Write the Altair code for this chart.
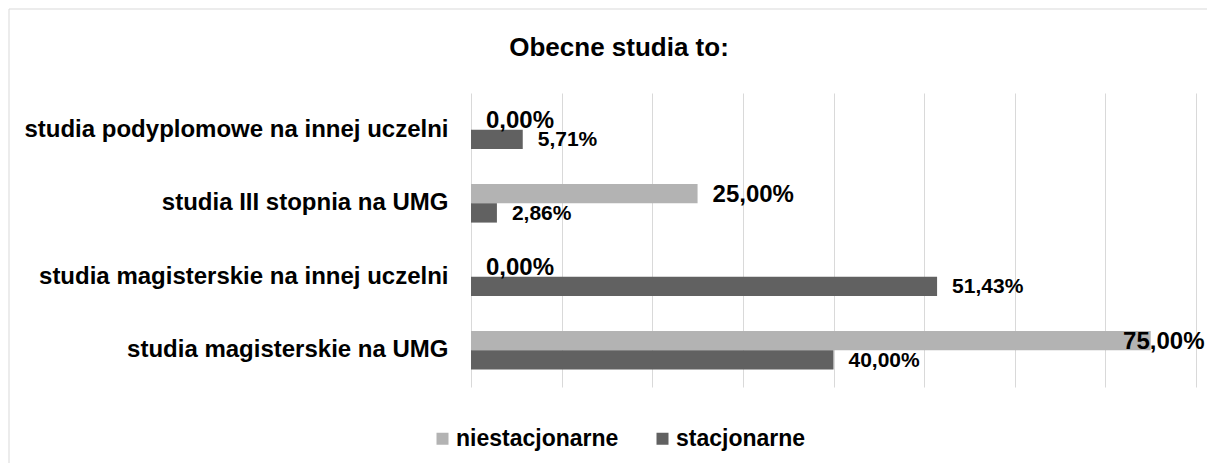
import altair as alt
import pandas as pd

TITLE = "Obecne studia to:"
categories = [
    "studia podyplomowe na innej uczelni",
    "studia III stopnia na UMG",
    "studia magisterskie na innej uczelni",
    "studia magisterskie na UMG",
]
series = ["niestacjonarne", "stacjonarne"]
niestacjonarne = [0.0, 25.0, 0.0, 75.0]
stacjonarne = [5.71, 2.86, 51.43, 40.0]
x_ticks = [0, 10, 20, 30, 40, 50, 60, 70, 80]
colors = ["#b3b3b3", "#616161"]

rows = []
for c, a, b in zip(categories, niestacjonarne, stacjonarne):
    rows.append({"kategoria": c, "seria": series[0], "wartosc": a})
    rows.append({"kategoria": c, "seria": series[1], "wartosc": b})
df = pd.DataFrame(rows)

FONT = "Liberation Sans"
LABEL_MAX = 70.3  # labels near the right edge are pulled inside, as in the source

x_scale = alt.Scale(domain=[0, 80], nice=False)
y_enc = alt.Y(
    "kategoria:N",
    sort=categories,
    scale=alt.Scale(paddingInner=0.474, paddingOuter=0.237),
    axis=alt.Axis(
        title=None, labelFontSize=24, labelFontWeight="bold", labelColor="black",
        labelFont=FONT, labelPadding=23, ticks=False, domain=False, labelLimit=700,
    ),
)
yoff_enc = alt.YOffset("seria:N", sort=series)

base = alt.Chart(df)

bars = base.mark_bar().encode(
    x=alt.X(
        "wartosc:Q", scale=x_scale,
        axis=alt.Axis(values=x_ticks, labels=False, ticks=False, domain=False,
                      title=None, grid=True, gridColor="#d9d9d9", gridWidth=1),
    ),
    y=y_enc,
    yOffset=yoff_enc,
    color=alt.Color(
        "seria:N", sort=series,
        scale=alt.Scale(domain=series, range=colors),
        legend=alt.Legend(
            orient="none", legendX=-40, legendY=334, direction="horizontal",
            title=None, symbolType="square", symbolSize=144, labelFontSize=23,
            labelFontWeight="bold", labelFont=FONT, labelColor="black",
            columnPadding=32, labelOffset=2, padding=0, symbolStrokeWidth=0,
            labelLimit=400,
        ),
    ),
)

labels = base.transform_calculate(
    lbl="replace(format(datum.wartosc, '.2f'), '.', ',') + '%'",
    lx=f"min(datum.wartosc, {LABEL_MAX})",
).mark_text(
    align="left", baseline="middle", dx=15, dy=1, fontWeight="bold",
    font=FONT, color="black",
).encode(
    x=alt.X("lx:Q", scale=x_scale, title=None),
    y=y_enc,
    yOffset=yoff_enc,
    text="lbl:N",
    size=alt.condition("datum.seria == 'stacjonarne'", alt.value(21), alt.value(24)),
)

title = alt.Chart(pd.DataFrame({"t": [TITLE]})).mark_text(
    align="center", baseline="alphabetic", fontSize=26, fontWeight="bold",
    font=FONT, color="black",
).encode(text="t:N", x=alt.value(148), y=alt.value(-37))

border = alt.Chart(pd.DataFrame({"a": [0]})).mark_rect(
    fill="transparent", stroke="#d9d9d9", strokeWidth=1,
).encode(x=alt.value(-462), x2=alt.value(770), y=alt.value(-84), y2=alt.value(400))

chart = alt.layer(border, bars, labels, title).properties(
    width=725, height=294,
    padding={"left": 463, "top": 85, "right": 11, "bottom": 76},
    autosize=alt.AutoSizeParams(type="none"),
    background="white",
).configure_view(stroke=None)

chart.save("out.html", embed_options={"renderer": "svg", "actions": False})
